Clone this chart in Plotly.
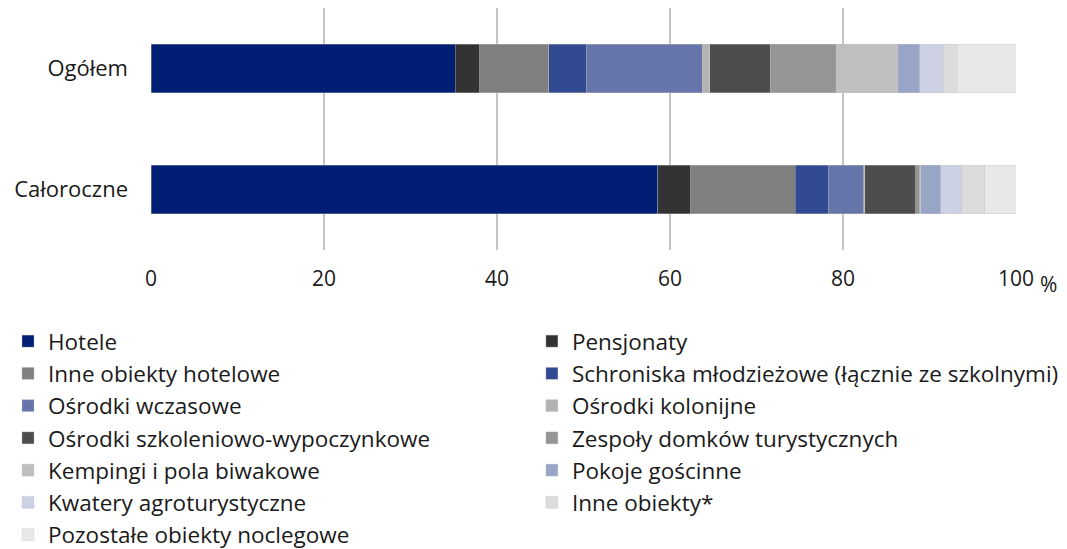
import plotly.graph_objects as go

categories = ["Ogółem", "Całoroczne"]

series_names = [
    "Hotele", "Pensjonaty", "Inne obiekty hotelowe",
    "Schroniska młodzieżowe (łącznie ze szkolnymi)", "Ośrodki wczasowe",
    "Ośrodki kolonijne", "Ośrodki szkoleniowo-wypoczynkowe",
    "Zespoły domków turystycznych", "Kempingi i pola biwakowe",
    "Pokoje gościnne", "Kwatery agroturystyczne", "Inne obiekty*",
    "Pozostałe obiekty noclegowe",
]

# shares in % : [Ogółem, Całoroczne]
hotele = [35.2, 58.6]
pensjonaty = [2.8, 3.8]
inne_hotelowe = [8.0, 12.1]
schroniska = [4.4, 3.8]
wczasowe = [13.3, 4.1]
kolonijne = [0.9, 0.1]
szkoleniowe = [7.0, 5.9]
domki = [7.6, 0.5]
kempingi = [7.1, 0.1]
pokoje = [2.6, 2.3]
kwatery = [2.7, 2.4]
inne_obiekty = [1.6, 2.7]
pozostale = [6.8, 3.6]

values = [hotele, pensjonaty, inne_hotelowe, schroniska, wczasowe, kolonijne,
          szkoleniowe, domki, kempingi, pokoje, kwatery, inne_obiekty, pozostale]

colors = ["#001e73", "#333333", "#808080", "#324a91", "#6676aa", "#b3b3b3",
          "#4d4d4d", "#959595", "#bfbfbf", "#99a5c7", "#ccd2e3", "#dcdcdc", "#e8e8e8"]

x_ticks = [0, 20, 40, 60, 80, 100]

FONT = "Open Sans"
TXT = "#1a1a1a"

fig = go.Figure()
for i, (name, vals, col) in enumerate(zip(series_names, values, colors)):
    fig.add_trace(go.Bar(
        y=categories, x=vals, name=name, orientation="h",
        marker_color=col, marker_line_width=0.6,
        marker_line_color="rgba(200,200,200,0.6)",
        legendgroup=name,
        legend="legend" if i % 2 == 0 else "legend2",
    ))

legend_common = dict(
    orientation="v", bgcolor="rgba(0,0,0,0)", traceorder="normal",
    font=dict(family=FONT, size=22.5, color=TXT),
    tracegroupgap=5.5, itemwidth=30,
    yref="container", xref="container", yanchor="top", xanchor="left",
)

fig.update_layout(
    width=1067, height=549,
    barmode="stack", bargap=0.6,
    plot_bgcolor="white", paper_bgcolor="white",
    margin=dict(l=143, r=59, t=0, b=307, autoexpand=False),
    font=dict(family=FONT, size=22, color=TXT),
    xaxis=dict(range=[0, 100], tickvals=x_ticks, showgrid=True,
               gridcolor="#c4c4c4", gridwidth=2, zeroline=False,
               showline=False, ticks="", ticklabelstandoff=14,
               tickfont=dict(size=21)),
    yaxis=dict(autorange="reversed", ticks="", showline=False,
               ticklabelstandoff=22, tickfont=dict(size=22)),
    legend=dict(x=0.0, y=1 - 312 / 549, **legend_common),
    legend2=dict(x=0.491, y=1 - 312 / 549, **legend_common),
    annotations=[dict(text="%", xref="paper", yref="paper", x=1.026, y=-0.14,
                      xanchor="left", yanchor="middle", showarrow=False,
                      font=dict(size=21, color=TXT))],
)

fig.write_html("out.html")
